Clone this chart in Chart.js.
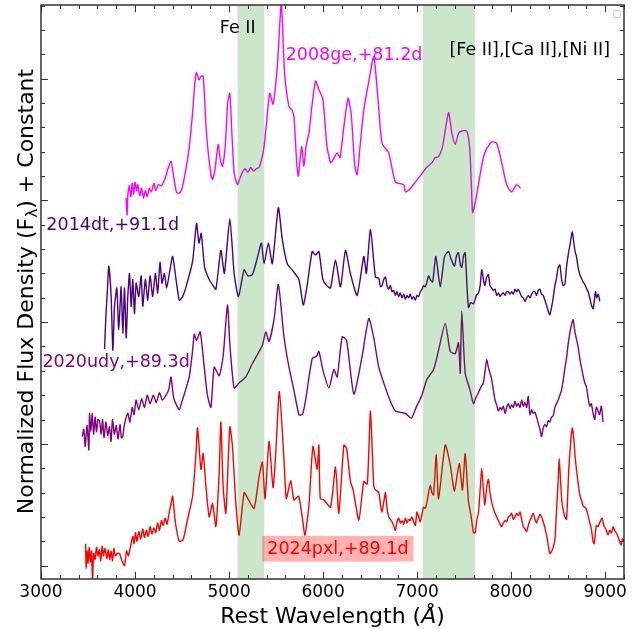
<!DOCTYPE html>
<html>
<head>
<meta charset="utf-8">
<script src="https://cdn.jsdelivr.net/npm/chart.js@4.4.0/dist/chart.umd.min.js"></script>
<style>
  html, body { margin: 0; padding: 0; background: #fff; }
  #wrap { width: 641px; height: 629px; }
</style>
</head>
<body>
<div id="wrap"><canvas id="spec"></canvas></div>
<script>
// SN 2008ge, +81.2d
var wave08ge = [3905,3915,3925,3940,3955,3970,3985,4000,4015,4030,4050,4070,4090,4110,4130,4150,4175,4200,4220,4250,
  4280,4320,4350,4383,4410,4440,4471,4500,4540,4577,4610,4640,4654,4680,4700,4725,4760,4800,4824,4850,
  4884,4910,4930,4960,4985,5008,5030,5055,5089,5115,5142,5170,5200,5230,5260,5290,5319,5350,5372,5400,
  5433,5468,5513,5556,5590,5637,5670,5690,5720,5736,5772,5796,5820,5849,5885,5920,5955,5998,6040,6079,
  6110,6149,6180,6220,6266,6300,6335,6362,6400,6432,6480,6539,6584,6627,6698,6769,6858,6875,6930,6981,
  7051,7100,7157,7190,7228,7270,7334,7370,7405,7440,7475,7528,7560,7578,7590,7610,7652,7690,7723,7760,
  7793,7846,7899,7952,8005,8058,8100];
var flux08ge = [3.02,2.88,3.06,3.12,3.03,3.14,3.05,3.15,3.08,3.13,3.04,3.10,3.02,3.08,3.03,3.10,3.07,3.14,3.08,3.13,
  3.12,3.18,3.26,3.32,3.20,3.07,3.06,3.10,3.25,3.44,3.70,4.00,4.05,3.99,4.02,4.02,3.55,3.25,3.17,3.25,
  3.46,3.32,3.28,3.45,3.80,3.88,3.55,3.22,3.13,3.18,3.23,3.26,3.23,3.27,3.24,3.26,3.27,3.35,3.44,3.65,
  3.88,3.79,4.10,4.62,4.05,3.77,3.74,3.69,3.30,3.20,3.44,3.28,3.45,3.55,3.80,3.98,3.91,3.83,3.45,3.31,
  3.34,3.39,3.35,3.60,3.84,3.70,3.30,3.21,3.50,3.74,3.95,4.18,3.83,3.47,3.39,3.15,3.13,3.07,3.10,3.15,
  3.22,3.27,3.31,3.35,3.36,3.44,3.72,3.55,3.46,3.55,3.57,3.57,3.42,3.10,2.90,2.95,3.13,3.30,3.40,3.45,
  3.48,3.47,3.31,3.13,3.07,3.13,3.10];

// SN 2014dt, +91.1d
var wave14dt = [3676,3690,3705,3721,3746,3764,3782,3806,3827,3852,
  3870,3888,3906,3923,3941,3959,3976,3994,4012,4039,
  4065,4082,4110,4135,4160,4188,4216,4241,4266,4287,
  4312,4336,4365,4400,4436,4471,4506,4542,4612,4654,
  4680,4704,4740,4789,4830,4860,4913,4950,5008,5054,
  5100,5160,5200,5248,5301,5344,5372,5418,5460,5524,
  5566,5619,5680,5743,5789,5830,5884,5920,5955,5998,
  6040,6079,6132,6185,6238,6290,6362,6433,6460,6504,
  6557,6592,6610,6627,6645,6663,6680,6698,6715,6733,
  6750,6769,6785,6804,6820,6839,6857,6875,6892,6910,
  6927,6945,6963,6981,6998,7016,7034,7051,7069,7087,
  7104,7122,7140,7165,7199,7246,7292,7334,7360,7397,
  7420,7440,7460,7475,7495,7511,7530,7546,7570,7600,
  7630,7652,7670,7687,7705,7720,7740,7758,7775,7793,
  7811,7829,7846,7864,7882,7900,7917,7935,7952,7970,
  7988,8005,8023,8041,8058,8076,8094,8111,8129,8147,
  8165,8182,8200,8218,8235,8253,8270,8288,8306,8323,
  8341,8359,8376,8394,8412,8429,8447,8465,8482,8500,
  8518,8535,8553,8571,8588,8606,8624,8649,8665,8680,
  8694,8712,8730,8747,8765,8783,8800,8818,8836,8853,
  8871,8885,8896,8910,8925,8943];
var flux14dt = [1.78,2.05,2.25,2.46,2.21,1.77,2.13,2.28,1.94,2.29,
  1.91,2.28,1.87,2.21,2.40,2.13,2.35,2.07,2.32,2.21,
  2.38,2.13,2.35,2.18,2.38,2.21,2.40,2.24,2.49,2.32,
  2.40,2.28,2.40,2.54,2.35,2.18,2.21,2.29,2.50,2.81,
  2.65,2.73,2.45,2.35,2.30,2.27,2.59,2.40,2.85,2.40,
  2.21,2.43,2.38,2.39,2.53,2.65,2.48,2.65,2.48,2.94,
  2.68,2.48,2.42,2.35,2.14,2.30,2.58,2.55,2.58,2.35,
  2.30,2.28,2.51,2.29,2.59,2.40,2.22,2.54,2.40,2.76,
  2.37,2.36,2.29,2.30,2.35,2.37,2.30,2.27,2.30,2.25,
  2.26,2.22,2.25,2.21,2.24,2.20,2.23,2.19,2.22,2.20,
  2.23,2.19,2.21,2.18,2.22,2.21,2.25,2.27,2.30,2.29,
  2.33,2.38,2.35,2.33,2.54,2.29,2.54,2.58,2.52,2.46,
  2.55,2.57,2.47,2.45,2.55,2.57,2.30,2.12,2.16,2.15,
  2.22,2.24,2.30,2.43,2.35,2.30,2.37,2.39,2.30,2.28,
  2.26,2.27,2.22,2.24,2.21,2.23,2.24,2.22,2.25,2.25,
  2.23,2.25,2.23,2.27,2.25,2.27,2.24,2.21,2.20,2.17,
  2.20,2.22,2.20,2.23,2.25,2.25,2.22,2.26,2.27,2.23,
  2.22,2.18,2.14,2.09,2.06,2.12,2.20,2.30,2.36,2.45,
  2.47,2.36,2.30,2.31,2.45,2.55,2.63,2.74,2.66,2.58,
  2.54,2.45,2.39,2.36,2.33,2.31,2.28,2.25,2.20,2.14,
  2.11,2.18,2.25,2.20,2.23,2.17];

// SN 2020udy, +89.3d
var wave20udy = [3439,3455,3470,3490,3509,3516,3530,3545,3560,3575,
  3590,3605,3622,3640,3655,3670,3690,3710,3728,3745,
  3760,3780,3800,3820,3840,3855,3870,3885,3923,3945,
  3970,3990,4011,4040,4070,4100,4130,4160,4195,4225,
  4260,4290,4330,4360,4383,4410,4440,4471,4500,4540,
  4577,4610,4630,4655,4693,4736,4770,4807,4842,4895,
  4937,4983,5010,5054,5107,5178,5248,5354,5390,5425,
  5478,5524,5584,5637,5690,5743,5780,5814,5884,5930,
  5955,6000,6062,6114,6150,6203,6250,6327,6415,6486,
  6539,6592,6663,6716,6769,6875,6939,6990,7051,7104,
  7175,7228,7299,7352,7405,7440,7458,7475,7511,7560,
  7599,7625,7652,7680,7705,7740,7760,7793,7811,7829,
  7846,7864,7882,7900,7917,7935,7952,7970,7988,8005,
  8023,8041,8058,8076,8094,8111,8129,8147,8165,8182,
  8200,8218,8235,8253,8270,8288,8306,8323,8341,8359,
  8376,8394,8412,8429,8447,8465,8482,8500,8518,8535,
  8553,8571,8588,8606,8624,8642,8659,8676,8694,8712,
  8730,8747,8765,8783,8800,8818,8836,8853,8871,8889,
  8906,8924,8940,8959,8977];
var flux20udy = [1.06,1.12,0.98,1.15,0.95,1.25,1.10,1.25,1.08,1.22,
  1.10,1.20,1.19,1.08,1.20,1.05,1.18,1.07,1.14,1.02,
  1.20,1.08,1.15,1.04,1.16,1.05,1.06,1.15,1.25,1.18,
  1.30,1.24,1.36,1.28,1.37,1.30,1.40,1.33,1.40,1.34,
  1.42,1.36,1.40,1.45,1.55,1.38,1.32,1.28,1.35,1.45,
  1.55,1.75,1.90,1.85,1.92,1.63,1.40,1.30,1.63,1.56,
  1.72,2.14,1.80,1.46,1.50,1.55,1.66,1.81,1.92,1.84,
  2.02,2.31,1.88,1.63,1.44,1.24,1.24,1.36,1.70,1.72,
  1.76,1.60,1.46,1.61,1.55,1.88,1.85,1.41,1.72,2.03,
  1.87,1.63,1.46,1.35,1.27,1.25,1.21,1.30,1.40,1.53,
  1.61,1.77,1.99,1.76,1.74,1.83,1.58,2.09,1.58,1.45,
  1.33,1.38,1.42,1.47,1.50,1.69,1.62,1.53,1.44,1.36,
  1.32,1.27,1.30,1.28,1.31,1.25,1.30,1.33,1.29,1.32,
  1.30,1.35,1.31,1.33,1.30,1.36,1.31,1.34,1.30,1.39,
  1.24,1.28,1.25,1.26,1.22,1.17,1.12,1.06,1.13,1.16,
  1.14,1.19,1.18,1.22,1.23,1.30,1.33,1.36,1.40,1.44,
  1.52,1.62,1.70,1.82,1.91,1.98,2.02,1.93,1.86,1.80,
  1.70,1.63,1.56,1.50,1.47,1.38,1.31,1.33,1.25,1.20,
  1.30,1.27,1.24,1.31,1.18];

// SN 2024pxl, +89.1d
var wave24pxl = [3474,3480,3490,3500,3512,3525,3537,3548,3560,3575,
  3590,3605,3620,3635,3650,3665,3680,3700,3715,3730,
  3745,3760,3775,3790,3812,3835,3860,3888,3910,3930,
  3950,3976,3990,4005,4020,4040,4060,4082,4100,4120,
  4140,4160,4180,4200,4220,4240,4260,4280,4300,4320,
  4340,4360,4380,4400,
  4430,4471,4510,4559,4612,4648,4665,4701,
  4725,4754,4789,4824,4860,4895,4913,4937,4966,5008,
  5036,5072,5107,5160,5200,5266,5319,5354,5383,5425,
  5468,5496,5535,5584,5609,5655,5690,5740,5778,5807,
  5849,5892,5937,5955,5970,6008,6079,6132,6167,6221,
  6250,6291,6320,6380,6433,6470,6504,6539,6560,6592,
  6610,6627,6645,6663,6680,6698,6715,6733,6750,6769,
  6786,6804,6822,6840,6857,6875,6892,6910,6927,6945,
  6963,6981,6998,7016,7034,7051,7069,7087,7104,7122,
  7140,7157,7175,7203,7228,7299,7352,7397,7447,7482,
  7511,7546,7575,7599,7617,7635,7652,7670,7687,7705,
  7720,7740,7758,7775,7793,7811,7829,7846,7864,7882,
  7899,7917,7935,7952,7970,7988,8005,8023,8041,8058,
  8076,8094,8111,8129,8147,8164,8182,8200,8218,8235,
  8253,8270,8288,8306,8323,8341,8359,8376,8394,8402,
  8412,8429,8447,8465,8482,8500,8511,8525,8540,8553,
  8571,8588,8600,8612,8624,8640,8652,8665,8680,8694,
  8712,8730,8747,8765,8783,8800,8818,8836,8853,8871,
  8883,8895,8906,8924,8940,8967,8985,9012,9030,9048,
  9066,9084,9100,9118,9136,9154,9170,9185,9200];
var flux24pxl = [0.18,-0.02,0.12,0.02,0.15,0.03,0.12,-0.12,0.10,0.05,
  0.15,0.08,0.13,0.04,0.16,0.08,0.14,0.06,0.13,0.05,
  0.12,0.04,0.14,0.08,0.10,0.10,0.04,0.00,0.12,0.08,
  0.15,0.24,0.18,0.27,0.20,0.28,0.22,0.30,0.23,0.29,
  0.24,0.32,0.26,0.31,0.27,0.35,0.29,0.37,0.33,0.39,
  0.34,0.42,0.50,0.57,
  0.35,0.20,0.21,0.38,0.57,0.92,1.13,0.79,
  0.92,0.65,0.40,0.51,0.32,0.76,1.18,0.65,0.43,1.14,
  0.98,0.51,0.25,0.60,0.55,0.47,0.73,0.85,0.55,1.02,
  0.64,0.92,1.43,0.87,0.55,0.70,0.54,0.57,0.40,0.25,
  0.49,0.98,0.79,0.99,0.55,0.54,0.48,0.81,0.43,0.99,
  0.96,0.69,0.62,0.375,0.69,0.67,1.27,0.65,0.62,0.60,
  0.50,0.44,0.52,0.60,0.47,0.40,0.38,0.36,0.33,0.29,
  0.36,0.39,0.35,0.37,0.34,0.39,0.35,0.38,0.37,0.40,
  0.36,0.33,0.44,0.40,0.36,0.42,0.48,0.47,0.52,0.60,
  0.66,0.60,0.58,0.91,0.55,0.99,0.83,0.61,0.84,0.62,
  0.92,0.53,0.40,0.27,0.27,0.38,0.43,0.62,0.80,0.62,
  0.50,0.65,0.71,0.60,0.52,0.47,0.43,0.40,0.37,0.34,
  0.32,0.35,0.37,0.36,0.40,0.41,0.43,0.38,0.40,0.43,
  0.41,0.44,0.38,0.32,0.30,0.28,0.33,0.37,0.40,0.43,
  0.38,0.35,0.39,0.42,0.40,0.36,0.31,0.25,0.17,0.13,
  0.10,0.115,0.15,0.21,0.45,0.70,0.88,0.70,0.52,0.46,
  0.40,0.38,0.55,0.78,0.92,1.08,1.13,1.05,0.90,0.79,
  0.68,0.58,0.54,0.49,0.48,0.46,0.41,0.35,0.30,0.20,
  0.18,0.26,0.33,0.32,0.35,0.39,0.33,0.29,0.25,0.29,
  0.27,0.32,0.29,0.27,0.24,0.20,0.17,0.22,0.20];

// shaded line regions (Angstrom)
var bandStart = [5090, 7060];
var bandEnd = [5375, 7615];

// x tick labels
var xTicks = [3000, 4000, 5000, 6000, 7000, 8000, 9000];

// text notes: position in data units
var noteText = ['Fe II', '[Fe II],[Ca II],[Ni II]', '2008ge,+81.2d', '2014dt,+91.1d', '2020udy,+89.3d', '2024pxl,+89.1d'];
var noteWave = [4902, 7344, 5602, 3057, 3015, 5407];
var noteFlux = [4.375, 4.196, 4.155, 2.758, 1.635, 0.094];
var noteColor = ['#000000', '#000000', '#ff00ff', '#4b0082', '#800080', '#ff0000'];

var FONT = '"DejaVu Sans", sans-serif';

function pts(w, f) {
  return w.map(function(x, i) { return { x: x, y: f[i] }; });
}

var decor = {
  id: 'decor',
  afterDatasetsDraw: function(chart) {
    var ctx = chart.ctx, a = chart.chartArea, xs = chart.scales.x, ys = chart.scales.y;
    ctx.save();
    // green bands go over the spectra
    ctx.fillStyle = 'rgba(0,128,0,0.2)';
    for (var i = 0; i < bandStart.length; i++) {
      var x0 = xs.getPixelForValue(bandStart[i]), x1 = xs.getPixelForValue(bandEnd[i]);
      ctx.fillRect(x0, a.top, x1 - x0, a.bottom - a.top);
    }
    // notes
    ctx.font = '17.5px ' + FONT;
    ctx.textAlign = 'left';
    ctx.textBaseline = 'alphabetic';
    for (var j = 0; j < noteText.length; j++) {
      var px = xs.getPixelForValue(noteWave[j]), py = ys.getPixelForValue(noteFlux[j]);
      if (j === 5) {
        var w = ctx.measureText(noteText[j]).width;
        ctx.fillStyle = 'rgba(255,0,0,0.3)';
        ctx.fillRect(px - 5, py - 18.3, w + 10, 25.7);
      }
      ctx.fillStyle = noteColor[j];
      ctx.fillText(noteText[j], px, py);
    }
    ctx.restore();
  },
  afterDraw: function(chart) {
    var ctx = chart.ctx, a = chart.chartArea, xs = chart.scales.x, ys = chart.scales.y;
    ctx.save();
    ctx.strokeStyle = '#333';
    ctx.lineWidth = 1;
    ctx.beginPath();
    // x ticks, every 200 A, pointing in, top and bottom
    for (var k = 0; k <= 31; k++) {
      var v = 3000 + k * 200;
      var x = Math.round(xs.getPixelForValue(v)) + 0.5;
      var len = (k % 5 === 0) ? 7 : 4;
      ctx.moveTo(x, a.bottom); ctx.lineTo(x, a.bottom - len);
      ctx.moveTo(x, a.top); ctx.lineTo(x, a.top + len);
    }
    // y ticks, every 0.2, left and right
    for (var m = 0; m <= 23; m++) {
      var y = Math.round(ys.getPixelForValue(m * 0.2)) + 0.5;
      var ly = (m % 5 === 0) ? 7 : 4;
      ctx.moveTo(a.left, y); ctx.lineTo(a.left + ly, y);
      ctx.moveTo(a.right, y); ctx.lineTo(a.right - ly, y);
    }
    ctx.stroke();
    // frame
    ctx.lineWidth = 1.5;
    ctx.strokeRect(a.left, a.top, a.right - a.left, a.bottom - a.top);

    // empty legend box, top right
    ctx.lineWidth = 1;
    ctx.strokeStyle = '#cccccc';
    ctx.fillStyle = 'rgba(255,255,255,0.8)';
    ctx.beginPath();
    ctx.roundRect(613.5, 10.5, 7, 7, 1.5);
    ctx.fill();
    ctx.stroke();

    // x tick labels
    ctx.fillStyle = '#000';
    ctx.font = '17px ' + FONT;
    ctx.textAlign = 'center';
    ctx.textBaseline = 'alphabetic';
    xTicks.forEach(function(t) {
      ctx.fillText(String(t), xs.getPixelForValue(t), 596.5);
    });

    // x title with italic angstrom
    ctx.textAlign = 'left';
    var f1 = '22px ' + FONT, f2 = 'italic 22px ' + FONT;
    ctx.font = f1;
    var p1 = 'Rest Wavelength (', p3 = ')';
    var w1 = ctx.measureText(p1).width, w3 = ctx.measureText(p3).width;
    ctx.font = f2;
    var w2 = ctx.measureText('\u00c5').width;
    var cx = (a.left + a.right) / 2;
    var sx = cx - (w1 + w2 + w3) / 2;
    ctx.font = f1; ctx.fillText(p1, sx, 623);
    ctx.font = f2; ctx.fillText('\u00c5', sx + w1, 623);
    ctx.font = f1; ctx.fillText(p3, sx + w1 + w2, 623);

    // y title with subscript lambda
    ctx.translate(33.3, 291.5);
    ctx.rotate(-Math.PI / 2);
    var q1 = 'Normalized Flux Density (F', q2 = '\u03bb', q3 = ') + Constant';
    ctx.font = f1;
    var u1 = ctx.measureText(q1).width, u3 = ctx.measureText(q3).width;
    ctx.font = '15.4px ' + FONT;
    var u2 = ctx.measureText(q2).width;
    var s0 = -(u1 + u2 + u3) / 2;
    ctx.font = f1; ctx.fillText(q1, s0, 0);
    ctx.font = '15.4px ' + FONT; ctx.fillText(q2, s0 + u1, 4);
    ctx.font = f1; ctx.fillText(q3, s0 + u1 + u2, 0);
    ctx.restore();
  }
};

var ctx = document.getElementById('spec').getContext('2d');
var myChart = new Chart(ctx, {
  type: 'line',
  data: {
    datasets: [
      { label: '2008ge', data: pts(wave08ge, flux08ge), borderColor: '#ff00ff' },
      { label: '2014dt', data: pts(wave14dt, flux14dt), borderColor: '#4b0082' },
      { label: '2020udy', data: pts(wave20udy, flux20udy), borderColor: '#800080' },
      { label: '2024pxl', data: pts(wave24pxl, flux24pxl), borderColor: '#ff0000' }
    ]
  },
  options: {
    responsive: true,
    maintainAspectRatio: false,
    animation: false,
    devicePixelRatio: 1,
    layout: { padding: { left: 41, right: 17, top: 5, bottom: 50 } },
    elements: {
      point: { radius: 0 },
      line: { borderWidth: 1.4, tension: 0.2, fill: false }
    },
    plugins: {
      legend: { display: false },
      tooltip: { enabled: false }
    },
    scales: {
      x: { type: 'linear', display: false, min: 3000, max: 9200 },
      y: { type: 'linear', display: false, min: -0.11, max: 4.605 }
    }
  },
  plugins: [decor]
});
</script>
</body>
</html>
